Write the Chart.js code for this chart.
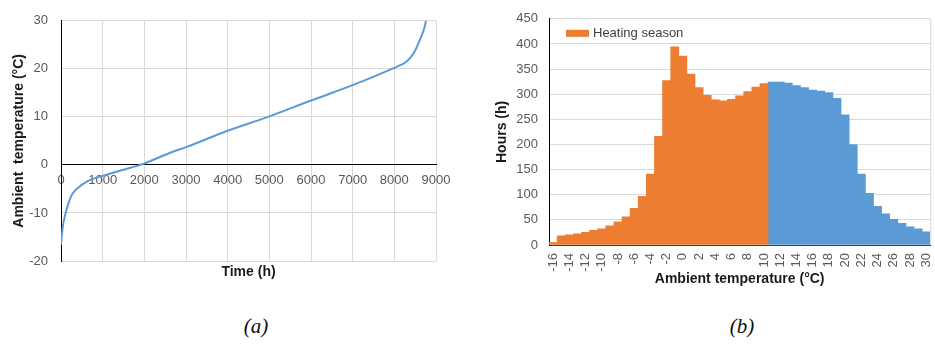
<!DOCTYPE html>
<html>
<head>
<meta charset="utf-8">
<script src="https://cdn.jsdelivr.net/npm/chart.js@4"></script>
<style>
  html, body { margin: 0; padding: 0; background: #fff; }
  body { width: 935px; height: 346px; overflow: hidden; position: relative; }
  .box { position: absolute; top: 0; }
  .cap { position: absolute; top: 316px; width: 60px; text-align: center;
         font: italic 21px "Liberation Serif", serif; line-height: 21px; color: #111; }
</style>
</head>
<body>
<div class="box" style="left:0"><canvas id="durChart" width="460" height="300"></canvas></div>
<div class="box" style="left:490px"><canvas id="histChart" width="460" height="300"></canvas></div>
<div class="cap" style="left:226px">(a)</div>
<div class="cap" style="left:712px">(b)</div>
<script>
"use strict";

// (a) duration curve
const hours = [0, 20, 50, 90, 140, 190, 250, 330, 420, 520, 650, 800, 1000, 1450, 1900, 2700, 3000, 4000, 5000, 6000, 7000,
  8000, 8100, 8200, 8300, 8400, 8500, 8620, 8720, 8760];
const temps = [-16.6, -14.6, -12.5, -10.8, -9.1, -7.7, -6.4, -5.4, -4.7, -4.0, -3.3, -2.8, -2.3, -1.1, 0, 2.8, 3.7, 7.1, 10.1, 13.4, 16.6,
  20.2, 20.6, 21.0, 21.6, 22.5, 23.8, 26.2, 28.5, 30];

// (b) histogram of hours per temperature bin
const tempBins = [-16, -15, -14, -13, -12, -11, -10, -9, -8, -7, -6, -5, -4, -3, -2, -1, 0, 1, 2, 3, 4, 5, 6, 7, 8, 9, 10,
  11, 12, 13, 14, 15, 16, 17, 18, 19, 20, 21, 22, 23, 24, 25, 26, 27, 28, 29, 30];
const heatingHours = [5, 18, 20, 22, 25, 29, 32, 38, 46, 56, 73, 97, 141, 216, 327, 394, 376, 340, 313, 298, 289, 287, 290, 297, 305, 314, 321];
const otherHours = [324, 324, 322, 317, 313, 308, 306, 303, 292, 259, 200, 141, 103, 77, 62, 51, 43, 36, 32, 26];

const tickFont = { family: "Liberation Sans", size: 13 };
const titleFont = { family: "Liberation Sans", size: 14, weight: "bold" };
const gridColor = "#d9d9d9";
const tickColor = "#595959";
const titleColor = "#1a1a1a";

// Gráfico (a)
new Chart(document.querySelector("#durChart"), {
  type: "line",
  data: {
    datasets: [{
      data: hours.map((h, i) => ({ x: h, y: temps[i] })),
      borderColor: "#5b9bd5",
      borderWidth: 2,
      pointRadius: 0,
      cubicInterpolationMode: "monotone",
    }],
  },
  options: {
    responsive: false,
    animation: false,
    layout: { padding: { top: 14, right: 24, bottom: 0, left: 0 } },
    plugins: { legend: { display: false }, tooltip: { enabled: false } },
    scales: {
      x: {
        type: "linear", min: 0, max: 9000,
        ticks: { display: false, stepSize: 1000 },
        grid: { color: gridColor, drawTicks: false },
        border: { display: false },
        title: { display: true, text: "Time (h)", font: titleFont, color: titleColor, padding: { top: 0, bottom: 19 } },
        afterFit: (s) => { s.height = 39; },
      },
      x2: {
        type: "linear", min: 0, max: 9000,
        position: { y: 0 },
        ticks: { stepSize: 1000, font: tickFont, color: tickColor, padding: 8, maxRotation: 0, callback: (v) => String(v) },
        grid: { display: false, drawTicks: false },
        border: { color: "#000", width: 1 },
      },
      y: {
        min: -20, max: 30,
        ticks: { stepSize: 10, font: tickFont, color: tickColor, padding: 13 },
        grid: { color: gridColor, drawTicks: false },
        border: { color: "#000", width: 1 },
        title: { display: true, text: "Ambient  temperature (°C)", font: titleFont, color: titleColor, padding: { top: 11, bottom: 0 } },
        afterFit: (s) => { s.width = 61; },
      },
    },
  },
});

// leyenda dentro del área y borde derecho
const insideLegend = {
  id: "insideLegend",
  afterDatasetsDraw(chart) {
    const { ctx, chartArea } = chart;
    const ds = chart.data.datasets[0];
    ctx.save();
    ctx.strokeStyle = gridColor;
    ctx.lineWidth = 1;
    ctx.beginPath();
    ctx.moveTo(chartArea.right + 0.5, chartArea.top);
    ctx.lineTo(chartArea.right + 0.5, chartArea.bottom);
    ctx.stroke();
    ctx.fillStyle = ds.backgroundColor;
    ctx.fillRect(chartArea.left + 17, chartArea.top + 11, 23, 7);
    ctx.fillStyle = "#404040";
    ctx.font = '13px "Liberation Sans"';
    ctx.textBaseline = "middle";
    ctx.fillText(ds.label, chartArea.left + 44, chartArea.top + 14.5);
    ctx.restore();
  },
};

// Gráfico (b)
const nHeat = heatingHours.length;
new Chart(document.querySelector("#histChart"), {
  type: "bar",
  data: {
    labels: tempBins.map(String),
    datasets: [
      {
        label: "Heating season",
        data: tempBins.map((t, i) => (i < nHeat ? heatingHours[i] : null)),
        backgroundColor: "#ed7d31",
      },
      {
        label: "Other",
        data: tempBins.map((t, i) => (i >= nHeat ? otherHours[i - nHeat] : null)),
        backgroundColor: "#5b9bd5",
      },
    ],
  },
  options: {
    responsive: false,
    animation: false,
    layout: { padding: { top: 12, right: 16, bottom: 0, left: 0 } },
    datasets: { bar: { barPercentage: 1, categoryPercentage: 1, borderWidth: 0 } },
    plugins: { legend: { display: false }, tooltip: { enabled: false } },
    scales: {
      x: {
        stacked: true,
        ticks: {
          autoSkip: false, minRotation: 90, maxRotation: 90, padding: 8,
          font: tickFont, color: tickColor,
          callback: (v, i) => (i % 2 === 0 ? String(tempBins[i]) : ""),
        },
        grid: { display: false, drawTicks: false },
        border: { color: "#404040", width: 1 },
        title: { display: true, text: "Ambient temperature (°C)", font: titleFont, color: titleColor, padding: { top: 0, bottom: 12 } },
        afterFit: (s) => { s.height = 55; },
      },
      y: {
        stacked: true,
        min: 0, max: 450,
        ticks: { stepSize: 50, font: tickFont, color: tickColor, padding: 11 },
        grid: { color: gridColor, drawTicks: false },
        border: { color: "#000", width: 1 },
        title: { display: true, text: "Hours (h)", font: titleFont, color: titleColor, padding: { top: 4, bottom: 0 } },
        afterFit: (s) => { s.width = 59; },
      },
    },
  },
  plugins: [insideLegend],
});
</script>
</body>
</html>
